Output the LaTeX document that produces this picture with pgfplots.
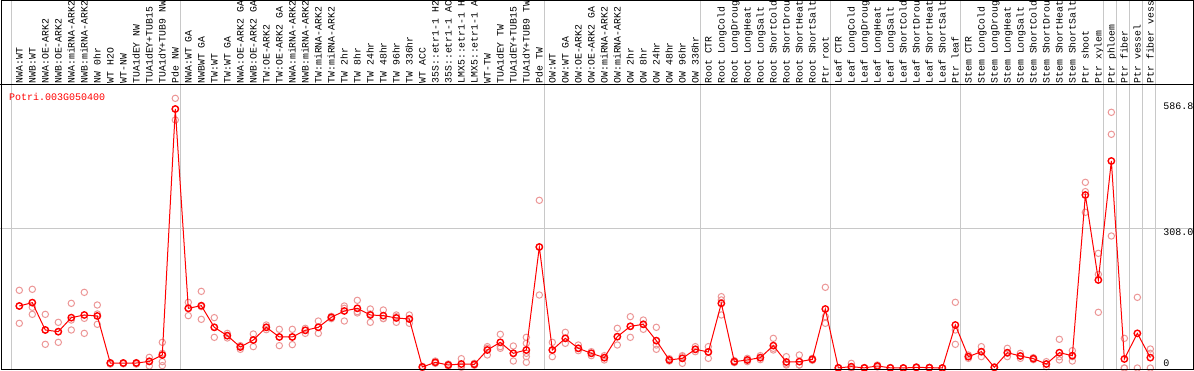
\documentclass[border=0pt]{standalone}
\usepackage{fontspec}
\setmonofont{Liberation Mono}
\usepackage{pgfplots}
\usepackage{pgfplotstable}
\pgfplotsset{compat=1.18}
\definecolor{pinkrep}{RGB}{236,150,150}
\definecolor{gridgray}{RGB}{200,200,200}

\pgfplotstableread{
x y
1 136.7
2 144.1
3 83.8
4 80.1
5 111.0
6 116.9
7 114.7
8 11.0
9 11.0
10 11.0
11 14.5
12 28.7
13 571.0
14 131.6
15 137.4
16 89.7
17 71.3
18 46.3
19 61.7
20 89.7
21 68.4
22 68.4
23 83.1
24 89.7
25 111.7
26 125.7
27 131.6
28 116.9
29 115.4
30 110.3
31 108.0
32 2.2
33 12.5
34 6.6
35 8.8
36 8.1
37 39.7
38 56.6
39 32.4
40 39.7
41 266.8
42 39.7
43 65.4
44 43.4
45 32.4
46 22.8
47 69.1
48 91.9
49 96.3
50 60.3
51 17.7
52 21.3
53 41.2
54 35.3
55 142.6
56 14.0
57 17.7
58 22.8
59 49.3
60 13.2
61 14.0
62 19.1
63 130.1
64 0.3
65 2.9
66 0.3
67 4.4
68 0.3
69 0.0
70 1.5
71 0.8
72 0.0
73 94.8
74 25.0
75 36.0
76 1.5
77 33.8
78 26.5
79 20.6
80 8.8
81 33.8
82 27.2
83 381.4
84 194.0
85 456.4
86 19.9
87 76.4
88 22.8
}\means

\pgfplotstableread{
x y
1 171.3
1 136.7
1 98.5
2 173.5
2 133.8
2 118.3
3 118.3
3 83.8
3 52.2
4 100.7
4 80.1
4 56.6
5 142.6
5 105.8
5 83.8
6 166.8
6 109.5
6 76.4
7 138.9
7 119.1
7 96.3
8 8.8
8 10.3
8 11.8
9 9.3
9 10.3
9 11.3
10 8.8
10 10.3
10 11.8
11 23.5
11 15.4
11 4.4
12 56.6
12 32.4
12 14.0
12 5.2
13 594.5
13 571.0
13 546.8
14 144.8
14 131.6
14 115.4
15 169.0
15 135.2
15 107.3
16 111.0
16 89.7
16 67.6
17 76.4
17 71.3
17 66.2
18 49.3
18 46.3
18 41.2
19 75.0
19 61.7
19 47.1
20 94.8
20 89.7
20 84.5
21 85.3
21 68.4
21 49.3
22 85.3
22 68.4
22 51.5
23 87.5
23 83.1
23 76.4
24 103.6
24 89.7
24 76.4
25 113.9
25 111.7
25 108.8
26 136.7
26 131.6
26 103.6
27 149.2
27 124.2
27 121.3
28 130.1
28 119.1
28 100.7
29 127.9
29 109.5
29 108.8
30 116.9
30 113.2
30 100.7
31 116.9
31 108.8
31 98.5
32 3.7
32 2.2
32 0.7
33 15.4
33 12.5
33 10.3
34 8.8
34 6.6
34 4.4
35 20.6
35 4.4
35 1.5
36 10.3
36 8.1
36 5.9
37 47.1
37 43.4
37 28.7
38 74.3
38 47.1
38 43.4
39 48.5
39 32.4
39 15.4
40 67.6
40 54.4
40 32.4
40 25.0
40 12.5
41 369.7
41 266.8
41 160.9
42 56.6
42 39.7
42 25.0
43 78.7
43 65.4
43 54.4
44 50.7
44 43.4
44 38.2
45 36.0
45 32.4
45 27.2
46 27.2
46 22.8
46 17.7
47 87.5
47 69.1
47 50.7
48 113.2
48 91.9
48 67.6
49 105.8
49 96.3
49 85.3
50 89.7
50 50.7
50 41.2
51 20.6
51 17.7
51 15.4
52 27.2
52 25.0
52 10.3
53 47.1
53 41.2
53 36.0
54 47.1
54 36.0
54 21.3
55 157.3
55 150.0
55 116.9
56 16.2
56 14.0
56 11.8
57 21.3
57 17.7
57 14.0
58 27.2
58 22.8
58 18.4
59 65.4
59 43.4
59 39.7
60 25.0
60 8.8
60 6.6
61 28.7
61 6.6
61 6.6
62 21.3
62 19.1
62 16.9
63 177.9
63 113.2
63 98.5
64 0.0
64 0.3
64 0.6
65 10.3
65 0.0
65 0.0
66 0.0
66 0.3
66 0.6
67 6.6
67 4.4
67 2.2
68 0.0
68 0.3
68 0.6
69 0.0
69 0.0
69 0.0
70 0.5
70 1.5
70 2.5
71 0.3
71 0.8
71 1.3
72 0.0
72 0.0
72 0.0
73 144.8
73 83.8
73 52.2
74 28.7
74 25.0
74 21.3
75 47.1
75 36.0
75 25.0
76 0.5
76 1.5
76 2.5
77 43.4
77 32.4
77 25.0
78 32.4
78 26.5
78 21.3
79 22.8
79 20.6
79 18.4
80 14.0
80 8.8
80 2.9
81 63.3
81 25.0
81 17.7
82 38.2
82 25.0
82 15.4
83 409.3
83 388.8
83 343.2
84 252.8
84 206.5
84 122.8
85 563.7
85 515.2
85 291.0
86 65.4
86 0.0
86 0.0
87 155.8
87 0.0
88 41.9
88 32.4
88 0.0
}\reps

\begin{document}
\begin{tikzpicture}
\begin{axis}[
  name=main,
  scale only axis,
  width=1194pt, height=370pt,
  xmin=-0.4846, xmax=91.3615,
  ymin=-4.41, ymax=811.3,
  axis line style={draw=none},
  clip mode=individual,
  major tick length=0pt,
  xtick={1,...,88},
  xticklabels={NWA:WT,NWB:WT,NWA:OE-ARK2,NWB:OE-ARK2,NWA:miRNA-ARK2,NWB:miRNA-ARK2,NW 0hr,WT H2O,WT-NW,TUA1dEY NW,TUA1dEY+TUB15,TUA1dY+TUB9 NW,Pde NW,NWA:WT GA,NWBWT GA,TW:WT,TW:WT GA,NWA:OE-ARK2 GA,NWB:OE-ARK2 GA,TW:OE-ARK2,TW:OE-ARK2 GA,NWA:miRNA-ARK2,NWB:miRNA-ARK2,TW:miRNA-ARK2,TW:miRNA-ARK2,TW 2hr,TW 8hr,TW 24hr,TW 48hr,TW 96hr,TW 336hr,WT ACC,35S::etr1-1 H2,35S::etr1-1 AC,LMX5::etr1-1 H,LMX5::etr1-1 A,WT-TW,TUA1dEY TW,TUA1dEY+TUB15,TUA1dY+TUB9 TW,Pde TW,OW:WT,OW:WT GA,OW:OE-ARK2,OW:OE-ARK2 GA,OW:miRNA-ARK2,OW:miRNA-ARK2,OW 2hr,OW 8hr,OW 24hr,OW 48hr,OW 96hr,OW 336hr,Root CTR,Root LongCold,Root LongDroug,Root LongHeat,Root LongSalt,Root ShortCold,Root ShortDrou,Root ShortHeat,Root ShortSalt,Ptr root,Leaf CTR,Leaf LongCold,Leaf LongDroug,Leaf LongHeat,Leaf LongSalt,Leaf ShortCold,Leaf ShortDrou,Leaf ShortHeat,Leaf ShortSalt,Ptr leaf,Stem CTR,Stem LongCold,Stem LongDroug,Stem LongHeat,Stem LongSalt,Stem ShortCold,Stem ShortDrou,Stem ShortHeat,Stem ShortSalt,Ptr shoot,Ptr xylem,Ptr phloem,Ptr fiber,Ptr vessel,Ptr fiber vess},
  xticklabel pos=upper,
  xticklabel shift=-83.5pt,
  xticklabel style={rotate=90, anchor=west, inner sep=0pt, font=\ttfamily\fontsize{9.8pt}{12pt}\selectfont, text height=6.5pt, text depth=0pt},
  extra x ticks={0.37,13.37,41.37,53.37,63.37,73.37,84.37,85.37,86.37,87.37,88.37},
  extra x tick labels={},
  extra x tick style={grid=major},
  ytick={0,586.8},
  yticklabels={{\raisebox{9.3pt}[0pt][0pt]{0}},586.8},
  yticklabel pos=right,
  yticklabel shift=-31pt,
  yticklabel style={anchor=north west, inner sep=0pt, yshift=-0.8pt, font=\ttfamily\fontsize{10pt}{12pt}\selectfont, text height=6.6pt, text depth=0pt},
  extra y ticks={308},
  extra y tick labels={308.0},
  extra y tick style={grid=major},
  major grid style={gridgray, line width=1pt},
]
\addplot[only marks, mark=o, mark size=3.2pt, mark options={draw=pinkrep, line width=1pt}] table[x=x, y=y] {\reps};
\addplot[red, line width=1pt, mark=o, mark size=3.2pt, mark options={draw=red, line width=1.4pt}] table[x=x, y=y] {\means};
\end{axis}
\draw[black, line width=1pt] (0pt,285pt) -- (1194pt,285pt);
\draw[black, line width=1pt] (1.2pt,0.5pt) rectangle (1193.5pt,369.5pt);
\node[anchor=base west, inner sep=0pt, text=red, font=\ttfamily\fontsize{10pt}{12pt}\selectfont] at (9pt,269.3pt) {Potri.003G050400};
\pgfresetboundingbox
\path[use as bounding box] (0pt,0pt) rectangle (1194pt,370pt);
\end{tikzpicture}
\end{document}
